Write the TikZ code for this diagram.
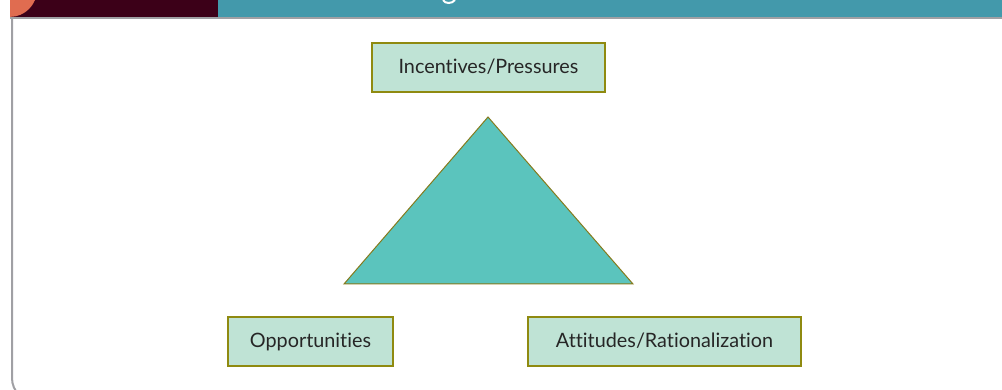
\documentclass[tikz,border=0pt]{standalone}
\usepackage{fontspec}
\setmainfont{Lato}[Ligatures=NoCommon]
\definecolor{maroon}{HTML}{3C0018}
\definecolor{tealhdr}{HTML}{4399AB}
\definecolor{orangehdr}{HTML}{E06C50}
\definecolor{boxfill}{HTML}{BFE3D5}
\definecolor{boxline}{HTML}{8F8A10}
\definecolor{trifill}{HTML}{5BC4BD}
\definecolor{triline}{HTML}{857A1C}
\definecolor{frameline}{HTML}{A0A0A4}
\tikzset{
  labelbox/.style={draw=boxline, line width=1.3pt, fill=boxfill, inner sep=0pt,
    font=\fontsize{19.8}{22}\selectfont, text=black!85, text height=15pt, text depth=3pt},
}
\begin{document}
\begin{tikzpicture}[x=1pt,y=-1pt]
\useasboundingbox (0,0) rectangle (1002,390);
\begin{scope}
\clip (0,0) rectangle (1002,390);
% header
\fill[maroon] (10,0) rectangle (218,17);
\fill[tealhdr] (218,0) rectangle (1002,17);
\begin{scope}
\clip (10,0) rectangle (218,17);
\fill[orangehdr] (10,-10) circle[radius=26.9];
\end{scope}
\draw[white, line width=2pt] (443,0) .. controls (445,4) and (452,4) .. (455,0);
\fill[frameline] (10,17) rectangle (1002,19);
% frame
\draw[frameline, line width=2pt, rounded corners=24pt] (12,18) -- (12,402) -- (1010,402);
\end{scope}
% triangle
\coordinate (apex) at (488,117);
\coordinate (bl) at (344,284);
\coordinate (br) at (633,284);
\filldraw[fill=trifill, draw=triline, line width=1pt, line join=miter] (apex) -- (bl) -- (br) -- cycle;
% boxes
\node[labelbox, minimum width=233pt, minimum height=49pt] (inc) at (488.5,67.5) {Incentives/Pressures};
\node[labelbox, minimum width=165pt, minimum height=49pt] (opp) at (310.5,341.5) {Opportunities};
\node[labelbox, minimum width=273pt, minimum height=49pt] (att) at (664.5,341.5) {Attitudes/Rationalization};
\end{tikzpicture}
\end{document}
